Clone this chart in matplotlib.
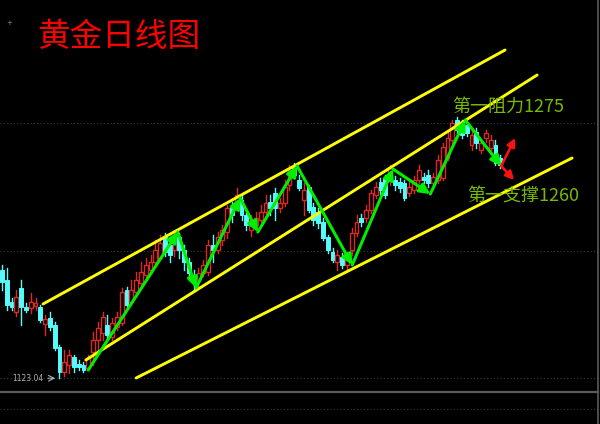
import matplotlib as mlp
mlp.use('Agg')
import matplotlib.pyplot as plt
from matplotlib.patches import Rectangle, FancyArrowPatch
import numpy as np

plt.rcParams['font.family'] = ['Noto Sans CJK SC', 'DejaVu Sans']

# daily gold candles (price)
opens = [1188, 1182, 1168.8, 1162.8, 1177.2, 1165.8, 1165.2, 1166.4, 1165.8, 1155.6,
         1159.2, 1155, 1141.8, 1126.8, 1131, 1135.8, 1131.6, 1131, 1129.2, 1138.8,
         1146, 1150.2, 1155, 1147.8, 1153.8, 1156.2, 1176, 1168.8, 1174.8, 1180.2,
         1185, 1188, 1192.8, 1195.2, 1207.8, 1203, 1200, 1207.8, 1200, 1192.8,
         1185, 1182, 1186.2, 1186.8, 1203, 1200, 1206, 1210.8, 1225.8, 1228.2,
         1230, 1221, 1212, 1215, 1218, 1222.8, 1228.8, 1234.2, 1225.2, 1228.2,
         1239, 1249.2, 1242, 1230, 1237.8, 1225.8, 1222.8, 1216.8, 1207.8, 1198.8,
         1192.8, 1195.8, 1191, 1200, 1210.2, 1219.2, 1219.2, 1224, 1233, 1240.8,
         1243.2, 1242, 1242, 1240.8, 1240.2, 1234.2, 1236, 1242, 1243.8, 1245,
         1240.2, 1242, 1243.2, 1255.2, 1266, 1278, 1275, 1275, 1263, 1270.8,
         1260, 1267.2, 1261.2, 1263, 1255.2]
closes = [1180.8, 1167, 1165.8, 1171.8, 1165.8, 1164, 1168.8, 1168.2, 1158, 1158.6,
          1153.8, 1141.2, 1126.8, 1132.8, 1137, 1129.8, 1129.8, 1128, 1135.2, 1146,
          1153.2, 1159.8, 1149, 1156.2, 1159.8, 1174.8, 1167, 1176, 1182, 1186.8,
          1191, 1192.8, 1200, 1204.2, 1198.8, 1197, 1206, 1200, 1192.8, 1186.2,
          1180.2, 1186.2, 1191, 1203, 1200, 1207.8, 1212, 1225.2, 1221, 1233,
          1221, 1215, 1218, 1219.2, 1222.8, 1228.2, 1225.2, 1225.2, 1228.2, 1237.8,
          1248, 1245, 1237.2, 1236, 1224, 1218, 1216.2, 1207.2, 1200, 1194,
          1197, 1191, 1195.8, 1210.2, 1216.8, 1216.8, 1224, 1234.2, 1237.8, 1236,
          1233, 1249.2, 1239, 1237.2, 1231.2, 1237.8, 1242, 1248, 1242, 1240.2,
          1243.8, 1254, 1261.8, 1267.2, 1276.2, 1272, 1269, 1270.2, 1269, 1264.2,
          1264.2, 1270.2, 1266, 1252.2, 1251]
highs = [1191, 1189.2, 1171.2, 1176, 1182, 1168.2, 1174.2, 1171.2, 1167, 1161,
         1162.8, 1156.8, 1143, 1140, 1140, 1137, 1134, 1132.8, 1137, 1150.8,
         1156.8, 1162.8, 1161, 1159.2, 1162.8, 1177.2, 1177.8, 1182, 1186.8, 1192.8,
         1195.2, 1197, 1206, 1209, 1210.2, 1206, 1210.8, 1210.2, 1203, 1195.2,
         1188, 1189.2, 1194, 1206, 1209, 1210.8, 1215, 1227, 1228.8, 1237.2,
         1233, 1224, 1221, 1222.8, 1227, 1233, 1233, 1237.2, 1231.2, 1242,
         1251, 1252.2, 1245, 1240.2, 1239, 1228.2, 1225.2, 1219.2, 1209, 1201.2,
         1200, 1198.2, 1198.8, 1213.2, 1221, 1221.6, 1227, 1236, 1240.8, 1243.2,
         1245, 1251, 1244.4, 1243.2, 1242, 1240.8, 1244.4, 1251, 1246.2, 1248,
         1246.2, 1257, 1264.2, 1270.8, 1278, 1279.8, 1278, 1276.8, 1272, 1273.2,
         1266, 1272, 1269, 1266, 1257]
lows = [1176, 1164, 1164, 1160.4, 1155, 1162.8, 1162.2, 1164, 1156.8, 1149,
        1152, 1140, 1123.04, 1124.4, 1126.2, 1126.8, 1128, 1126.8, 1128, 1131,
        1138.8, 1146, 1146, 1146, 1152, 1155, 1165.2, 1167, 1173, 1177.8,
        1182, 1186.2, 1191, 1194, 1196.4, 1192.8, 1196.4, 1195.2, 1188, 1182,
        1176, 1178.4, 1184.4, 1185, 1192.8, 1198.2, 1203, 1207.2, 1216.8, 1226.4,
        1218, 1212, 1208.4, 1212, 1216.8, 1221, 1221, 1218, 1222.8, 1226.4,
        1236, 1243.2, 1236, 1221, 1222.8, 1215, 1213.2, 1206, 1198.2, 1192.8,
        1188, 1189.2, 1188, 1197, 1208.4, 1214.4, 1216.8, 1222.2, 1231.2, 1233.6,
        1231.2, 1239, 1236, 1234.8, 1230, 1232.4, 1234.2, 1240.2, 1240.2, 1237.8,
        1238.4, 1240.2, 1242, 1254, 1263, 1270.2, 1267.2, 1268.4, 1260, 1261.2,
        1258.2, 1264.8, 1258.8, 1251, 1249.2]

# hand-drawn zigzag (bar index, price)
zig_x = [18, 36.7, 40.5, 49.7, 53.4, 61.6, 73.1, 81.6, 89.4, 96.7, 104.2]
zig_y = [1128, 1210.8, 1177.2, 1231.2, 1210.8, 1250.4, 1191, 1248.6, 1233.6, 1278, 1250.4]

# channel lines: (x0, y0, x1, y1)
channels = [(8.56, 1167.6, 105.0, 1320),
            (17.5, 1134, 111.7, 1305),
            (28.0, 1123.2, 119.0, 1255.2)]

# red arrows: possible next move
next_x = [107.1, 106.9]
next_y = [1267.2, 1242]

grid_prices = [1276.2, 1199.4, 1123.2]
low_mark = 1123.04

fig = plt.figure(figsize=(6, 4.24), dpi=100, facecolor='black')
ax = fig.add_axes([0, 32 / 424, 598 / 600, 392 / 424])
ax.set_facecolor('black')
ax.set_xlim(-0.418, 124.4)
ax.set_ylim(1114.8, 1350)
ax.set_xticks([])
ax.set_yticks([])
for s in ['top', 'left', 'bottom']:
    ax.spines[s].set_visible(False)
ax.spines['right'].set_color('#5a5a5a')
ax.spines['right'].set_linewidth(1.2)

for gp in grid_prices:
    ax.axhline(gp, color='#3c3c3c', lw=0.8, ls=(0, (1, 2)))

up_col = '#dc2828'
dn_col = '#54fcfc'
w = 0.8
for i in range(len(opens)):
    o, c, h, l = opens[i], closes[i], highs[i], lows[i]
    col = up_col if c >= o else dn_col
    ax.plot([i, i], [l, h], color=col, lw=1.0, zorder=2)
    if c >= o:
        ax.add_patch(Rectangle((i - w / 2, o), w, max(c - o, 0.3), facecolor='black',
                               edgecolor=col, lw=1.0, zorder=3))
    else:
        ax.add_patch(Rectangle((i - w / 2, c), w, max(o - c, 0.3), facecolor=col,
                               edgecolor=col, lw=0.7, zorder=3))

for x0, y0, x1, y1 in channels:
    ax.plot([x0, x1], [y0, y1], color='#ffff00', lw=2.1, solid_capstyle='round', zorder=4)

for k in range(len(zig_x) - 1):
    arr = FancyArrowPatch((zig_x[k], zig_y[k]), (zig_x[k + 1], zig_y[k + 1]),
                          arrowstyle='-|>', mutation_scale=15, color='#00ee00',
                          lw=2.2, shrinkA=0, shrinkB=0, zorder=5)
    ax.add_patch(arr)

for nx, ny in zip(next_x, next_y):
    arr = FancyArrowPatch((zig_x[-1], zig_y[-1]), (nx, ny), arrowstyle='-|>',
                          mutation_scale=12, color='#ff1010', lw=1.9,
                          shrinkA=0, shrinkB=0, zorder=6)
    ax.add_patch(arr)

ax.text(93.9, 1285.8, '第一阻力1275', color='#7ab800', fontsize=13,
        va='center', ha='left', zorder=7)
ax.text(97.1, 1231.8, '第一支撑1260', color='#7ab800', fontsize=13,
        va='center', ha='left', zorder=7)

ax.text(8.6, low_mark, '%.2f' % low_mark, color='#b0b0b0', fontsize=5.5,
        va='center', ha='right', family='DejaVu Sans')
ax.annotate('', xy=(11.7, low_mark), xytext=(9.0, low_mark),
            arrowprops=dict(arrowstyle='->', color='#b0b0b0', lw=0.8))

# empty lower panel
ax2 = fig.add_axes([0, 0, 598 / 600, 32 / 424])
ax2.set_facecolor('black')
ax2.set_xticks([])
ax2.set_yticks([])
ax2.set_xlim(0, 1)
ax2.set_ylim(0, 1)
for s in ['left', 'bottom']:
    ax2.spines[s].set_visible(False)
ax2.spines['top'].set_color('#5a5a5a')
ax2.spines['top'].set_linewidth(1.6)
ax2.spines['right'].set_color('#5a5a5a')
ax2.spines['right'].set_linewidth(1.2)
ax2.axhline(0.47, color='#3c3c3c', lw=0.8, ls=(0, (1, 2)))

fig.text(37 / 600, 1 - 37 / 424, '黄金日线图', color='#ff0000', fontsize=23.5,
         va='center', ha='left')
fig.text(9 / 600, 1 - 23 / 424, '+', color='#909090', fontsize=5,
         va='center', ha='center', family='DejaVu Sans')

fig.savefig('out.png', dpi=100, facecolor='black')
